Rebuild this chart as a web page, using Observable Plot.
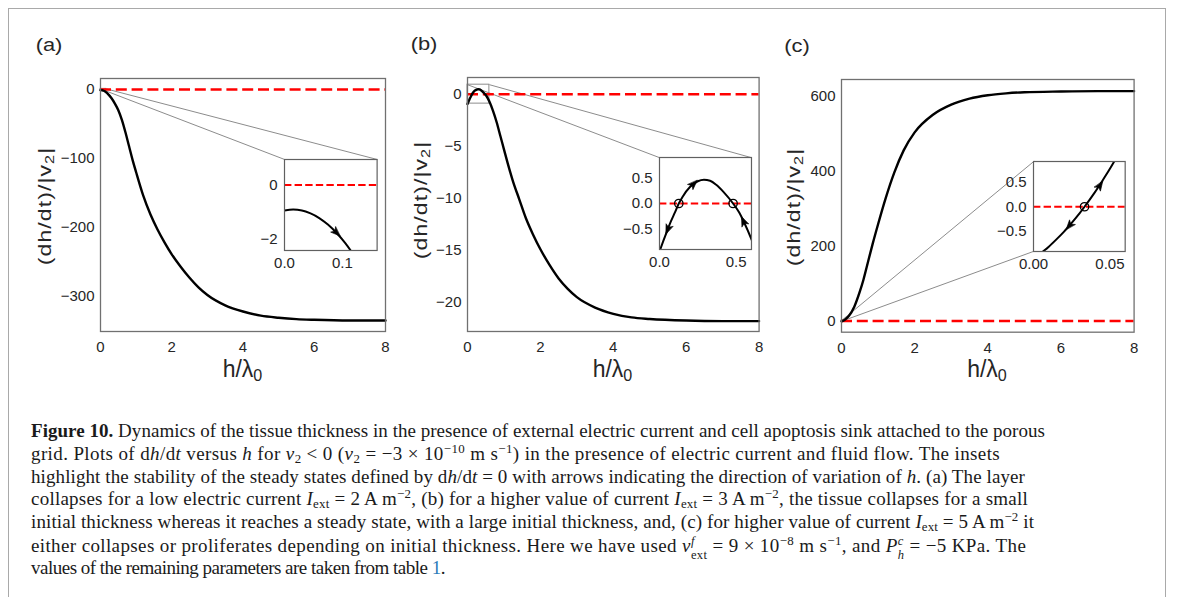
<!DOCTYPE html>
<html>
<head>
<meta charset="utf-8">
<script src="https://cdn.jsdelivr.net/npm/d3@7"></script>
<script src="https://cdn.jsdelivr.net/npm/@observablehq/plot@0.6"></script>
<style>
  body { margin: 0; background: #fff; }
  #fig { position: relative; width: 1182px; height: 597px; overflow: hidden; background: #fff;
         font-family: "Liberation Sans", Arial, sans-serif; }
  #border { position: absolute; left: 8px; top: 8px; width: 1158px; height: 640px;
            border: 1.5px solid #a9a9a9; box-sizing: border-box; }
  .lab { position: absolute; white-space: nowrap; color: #262626; line-height: 1; }
  .lab sub { font-size: 0.7em; vertical-align: -0.28em; line-height: 0; }
  .plabel { font-size: 17.5px; transform: translate(-50%, -50%) scaleX(1.25); }
  .xlab { font-size: 23px; transform: translate(-50%, -50%); }
  .ylab { font-size: 23px; letter-spacing: 1.1px; transform: translate(-50%, -50%) rotate(-90deg) scaleY(0.78); }
  #caption { position: absolute; left: 31px; top: 420px; font-family: "Liberation Serif", "Times New Roman", serif;
             font-size: 19px; color: #1a1a1a; }
  #caption .ln { height: 22.8px; line-height: 22.8px; white-space: nowrap; }
  #caption sup, #caption sub { font-size: 0.68em; line-height: 0; }
  #caption sup { vertical-align: 0.55em; }
  #caption sub { vertical-align: -0.25em; }
  .ss { display: inline-block; font-size: 0.66em; line-height: 1.15em; vertical-align: -0.62em; }
  .ss span { display: block; }
</style>
</head>
<body>
<div id="fig">
  <div id="border"></div>
  <div id="caption">
    <div class="ln"><b>Figure 10.</b> Dynamics of the tissue thickness in the presence of external electric current and cell apoptosis sink attached to the porous</div>
    <div class="ln">grid. Plots of d<i>h</i>/d<i>t</i> versus <i>h</i> for <i>v</i><sub>2</sub> &lt; 0 (<i>v</i><sub>2</sub> = −3 × 10<sup>−10</sup> m s<sup>−1</sup>) in the presence of electric current and fluid flow. The insets</div>
    <div class="ln">highlight the stability of the steady states defined by d<i>h</i>/d<i>t</i> = 0 with arrows indicating the direction of variation of <i>h</i>. (a) The layer</div>
    <div class="ln">collapses for a low electric current <i>I</i><sub>ext</sub> = 2 A m<sup>−2</sup>, (b) for a higher value of current <i>I</i><sub>ext</sub> = 3 A m<sup>−2</sup>, the tissue collapses for a small</div>
    <div class="ln">initial thickness whereas it reaches a steady state, with a large initial thickness, and, (c) for higher value of current <i>I</i><sub>ext</sub> = 5 A m<sup>−2</sup> it</div>
    <div class="ln">either collapses or proliferates depending on initial thickness. Here we have used <i>v</i><span class="ss"><span><i>f</i></span><span>ext</span></span> = 9 × 10<sup>−8</sup> m s<sup>−1</sup>, and <i>P</i><span class="ss"><span><i>c</i></span><span><i>h</i></span></span> = −5 KPa. The</div>
    <div class="ln">values of the remaining parameters are taken from table <span style="color:#2b7bb9">1</span>.</div>
  </div>
</div>
<script>
// ---------------- data ----------------
const xTicksMain = [0, 2, 4, 6, 8];

// (a) I_ext = 2 A m^-2
const hA = [0, 0.015, 0.03, 0.045, 0.06, 0.075, 0.09, 0.105, 0.12, 0.14, 0.16, 0.2, 0.3, 0.4, 0.5, 0.6, 0.7, 0.8, 0.9, 1.0, 1.2, 1.4, 1.6, 1.8, 2.0, 2.25, 2.5, 2.75, 3.0, 3.5, 4.0, 4.5, 5.0, 5.5, 6.0, 7.0, 8.0];
const vA = [-0.93, -0.90, -0.93, -1.04, -1.21, -1.45, -1.76, -2.13, -2.58, -3.27, -4.09, -6, -12, -20, -30, -44, -62, -82, -102, -120, -154, -181, -203, -222, -239, -257, -273, -287, -298, -313, -322, -328, -331, -333, -334, -335, -335];
const yTicksA = [0, -100, -200, -300];
const insetXDomainA = [0, 0.16];
const insetYDomainA = [-2.4, 0.94];
const insetXTicksA = [0, 0.1];
const insetYTicksA = [-2, 0];
const arrowsA = [{x1: 0.075, y1: -1.45, x2: 0.089, y2: -1.73}];
const fixedA = [];

// (b) I_ext = 3 A m^-2
const hB = [0, 0.025, 0.05, 0.075, 0.1, 0.126, 0.15, 0.2, 0.25, 0.29, 0.33, 0.37, 0.42, 0.48, 0.52, 0.55, 0.6, 0.7, 0.8, 0.9, 1.0, 1.1, 1.25, 1.42, 1.6, 1.8, 2.0, 2.25, 2.5, 2.75, 3.0, 3.5, 4.0, 4.5, 5.0, 6.0, 7.0, 8.0];
const vB = [-0.95, -0.74, -0.54, -0.35, -0.18, 0, 0.13, 0.33, 0.44, 0.47, 0.45, 0.37, 0.22, 0, -0.18, -0.36, -0.71, -1.6, -2.7, -4.0, -5.3, -6.6, -8.4, -10.1, -11.9, -13.5, -14.9, -16.4, -17.7, -18.7, -19.5, -20.5, -21.1, -21.45, -21.6, -21.75, -21.8, -21.8];
const yTicksB = [0, -5, -10, -15, -20];
const insetXDomainB = [0, 0.6];
const insetYDomainB = [-0.91, 0.91];
const insetXTicksB = [0, 0.5];
const insetYTicksB = [-0.5, 0, 0.5];
const arrowsB = [
  {x1: 0.075, y1: -0.35, x2: 0.055, y2: -0.50},
  {x1: 0.18, y1: 0.26, x2: 0.22, y2: 0.38},
  {x1: 0.57, y1: -0.5, x2: 0.55, y2: -0.36}
];
const fixedB = [0.126, 0.48];

// (c) I_ext = 5 A m^-2
const hC = [0, 0.005, 0.01, 0.015, 0.02, 0.025, 0.03, 0.0334, 0.04, 0.045, 0.05, 0.055, 0.06, 0.1, 0.2, 0.35, 0.5, 0.6, 0.7, 0.85, 1.0, 1.2, 1.44, 1.7, 2.0, 2.5, 3.0, 3.5, 4.0, 4.5, 5.0, 6.0, 7.0, 8.0];
const vC = [-1.07, -0.95, -0.82, -0.67, -0.51, -0.33, -0.14, 0, 0.29, 0.53, 0.78, 1.05, 1.33, 4, 13, 38, 78, 110, 148, 205, 258, 325, 395, 455, 503, 550, 577, 593, 602, 607, 610, 612, 613, 613];
const yTicksC = [0, 200, 400, 600];
const insetXDomainC = [0, 0.06];
const insetYDomainC = [-0.92, 0.93];
const insetXTicksC = [0, 0.05];
const insetYTicksC = [-0.5, 0, 0.5];
const arrowsC = [
  {x1: 0.039, y1: 0.23, x2: 0.0433, y2: 0.43},
  {x1: 0.028, y1: -0.22, x2: 0.0237, y2: -0.38}
];
const fixedC = [0.0334];

// ---------------- layout ----------------
const FONT = '"Liberation Sans", Arial, sans-serif';
const TICK = "#262626";
const ML = 70, MR = 12, MT = 12, MB = 50;      // main margins
const IML = 45, IMR = 10, IMT = 6, IMB = 30;   // inset margins
const captionLineEnds = [1045, 1000, 1025, 1028, 1034, 1027, 445];  // right edge of each caption line (px)

const panels = [
  { h: hA, v: vA, yTicks: yTicksA, frame: [100, 78, 385, 331], yDomain: [-351, 16],
    inset: { x: insetXDomainA, y: insetYDomainA, xt: insetXTicksA, yt: insetYTicksA, xf: ".1f", yf: "d",
             box: [5.17, 7.77, -101.5, -233.5], arrows: arrowsA, fixed: fixedA, corners: ["ul", "ur"] },
    tag: "(a)", tagPos: [49, 46], xlabPos: [242.5, 369], ylabPos: [45.3, 206] },
  { h: hB, v: vB, yTicks: yTicksB, frame: [466.7, 77, 758.3, 331], yDomain: [-22.8, 1.6],
    inset: { x: insetXDomainB, y: insetYDomainB, xt: insetXTicksB, yt: insetYTicksB, xf: ".1f", yf: ".1f",
             box: [5.276, 7.8, -6.11, -14.95], arrows: arrowsB, fixed: fixedB, corners: ["ul", "ur"] },
    tag: "(b)", tagPos: [424, 45], xlabPos: [612.5, 369], ylabPos: [420.8, 200] },
  { h: hC, v: vC, yTicks: yTicksC, frame: [840.7, 79, 1133.3, 331.7], yDomain: [-30, 644],
    inset: { x: insetXDomainC, y: insetYDomainC, xt: insetXTicksC, yt: insetYTicksC, xf: ".2f", yf: ".1f",
             box: [5.266, 7.773, 426.1, 186], arrows: arrowsC, fixed: fixedC, corners: ["ul", "ll"] },
    tag: "(c)", tagPos: [796.7, 46.7], xlabPos: [987, 369], ylabPos: [794, 206.7] }
];

// notched (dart) arrowhead for Plot.vector, centred on the anchor point
const dartHead = {
  draw(context) {
    context.moveTo(0, -5.5);
    context.lineTo(3.6, 4);
    context.lineTo(0, 1.6);
    context.lineTo(-3.6, 4);
    context.closePath();
  }
};

const fig = document.getElementById("fig");

function addLabel(cls, html, pos) {
  const d = document.createElement("div");
  d.className = "lab " + cls;
  d.innerHTML = html;
  d.style.left = pos[0] + "px";
  d.style.top = pos[1] + "px";
  fig.appendChild(d);
}

for (const p of panels) {
  const data = p.h.map((h, i) => ({h, v: p.v[i]}));
  const [fx0, fy0, fx1, fy1] = p.frame;
  const fw = fx1 - fx0, fh = fy1 - fy0;
  const I = p.inset;
  const [bx0, bx1, byTop, byBot] = I.box;

  // zoom rectangle (inset domain) and connector lines to the inset corners
  const zoomRect = [{x1: I.x[0], x2: I.x[1], y1: I.y[0], y2: I.y[1]}];
  const cornerSrc = {ul: [I.x[0], I.y[1]], ur: [I.x[1], I.y[1]], ll: [I.x[0], I.y[0]], lr: [I.x[1], I.y[0]]};
  const cornerDst = {ul: [bx0, byTop], ur: [bx1, byTop], ll: [bx0, byBot], lr: [bx1, byBot]};
  const links = I.corners.map(c => ({x1: cornerSrc[c][0], y1: cornerSrc[c][1], x2: cornerDst[c][0], y2: cornerDst[c][1]}));

  const main = Plot.plot({
    width: fw + ML + MR, height: fh + MT + MB,
    marginLeft: ML, marginRight: MR, marginTop: MT, marginBottom: MB,
    style: {fontFamily: FONT, background: "transparent", overflow: "visible"},
    x: {domain: [0, 8]},
    y: {domain: p.yDomain},
    marks: [
      Plot.axisX({ticks: xTicksMain, tickFormat: d3.format("d"), tickSize: 0, tickPadding: 10, fontSize: 15, fill: TICK, label: null}),
      Plot.axisY({ticks: p.yTicks, tickFormat: d3.format("d"), tickSize: 0, tickPadding: 6, fontSize: 15, fill: TICK, label: null}),
      Plot.rect(zoomRect, {x1: "x1", x2: "x2", y1: "y1", y2: "y2", fill: "none", stroke: "#8c8c8c", strokeWidth: 1}),
      Plot.link(links, {x1: "x1", y1: "y1", x2: "x2", y2: "y2", stroke: "#8c8c8c", strokeWidth: 1}),
      Plot.ruleY([0], {stroke: "#ff0000", strokeWidth: 2.5, strokeDasharray: "11,4.8"}),
      Plot.line(data, {x: "h", y: "v", stroke: "#000", strokeWidth: 2.4, curve: "monotone-x"}),
      Plot.frame({stroke: "#707070", strokeWidth: 1.3})
    ]
  });
  main.style.position = "absolute";
  main.style.left = (fx0 - ML) + "px";
  main.style.top = (fy0 - MT) + "px";
  fig.appendChild(main);

  // inset placement through the main scales
  const sx = main.scale("x"), sy = main.scale("y");
  const ix0 = sx.apply(bx0), ix1 = sx.apply(bx1), iy0 = sy.apply(byTop), iy1 = sy.apply(byBot);
  const iw = ix1 - ix0, ih = iy1 - iy0;

  // standalone inset scales to orient the arrowheads along the curve (screen angle)
  const isx = Plot.scale({x: {domain: I.x, range: [0, iw]}});
  const isy = Plot.scale({y: {domain: I.y, range: [ih, 0]}});
  const heads = I.arrows.map(a => {
    const dx = isx.apply(a.x2) - isx.apply(a.x1);
    const dy = isy.apply(a.y2) - isy.apply(a.y1);
    return {x: a.x2, y: a.y2, angle: Math.atan2(dx, -dy) * 180 / Math.PI};
  });

  const inset = Plot.plot({
    width: iw + IML + IMR, height: ih + IMT + IMB,
    marginLeft: IML, marginRight: IMR, marginTop: IMT, marginBottom: IMB,
    style: {fontFamily: FONT, background: "transparent", overflow: "visible"},
    x: {domain: I.x},
    y: {domain: I.y},
    marks: [
      Plot.frame({fill: "white", stroke: "none"}),
      Plot.axisX({ticks: I.xt, tickFormat: d3.format(I.xf), tickSize: 0, tickPadding: 7, fontSize: 15, fill: TICK, label: null}),
      Plot.axisY({ticks: I.yt, tickFormat: d3.format(I.yf), tickSize: 0, tickPadding: 7, fontSize: 15, fill: TICK, label: null}),
      Plot.ruleY([0], {stroke: "#ff0000", strokeWidth: 2, strokeDasharray: "7.4,3.2"}),
      Plot.line(data, {x: "h", y: "v", stroke: "#000", strokeWidth: 2, curve: "monotone-x", clip: true}),
      Plot.vector(heads, {x: "x", y: "y", rotate: "angle", length: 10, shape: dartHead, anchor: "start", fill: "#000", stroke: "#000", strokeWidth: 0.6}),
      Plot.dot(I.fixed, {x: d => d, y: () => 0, r: 4.2, stroke: "#000", fill: "none", strokeWidth: 1.3}),
      Plot.frame({stroke: "#606060", strokeWidth: 1.2})
    ]
  });
  inset.style.position = "absolute";
  inset.style.left = (fx0 - ML + ix0 - IML) + "px";
  inset.style.top = (fy0 - MT + iy0 - IMT) + "px";
  fig.appendChild(inset);

  addLabel("plabel", p.tag, p.tagPos);
  addLabel("xlab", "h/λ<sub>0</sub>", p.xlabPos);
  addLabel("ylab", "(dh/dt)/|v<sub>2</sub>|", p.ylabPos);
}

// fit each caption line to the reference line length via letter spacing
const figLeft = fig.getBoundingClientRect().left;
document.querySelectorAll("#caption .ln").forEach((ln, i) => {
  const r = document.createRange();
  r.selectNodeContents(ln);
  const right = r.getBoundingClientRect().right - figLeft;
  const n = ln.textContent.length;
  const ls = (captionLineEnds[i] - right) / n;
  ln.style.letterSpacing = ls.toFixed(3) + "px";
});
</script>
</body>
</html>
